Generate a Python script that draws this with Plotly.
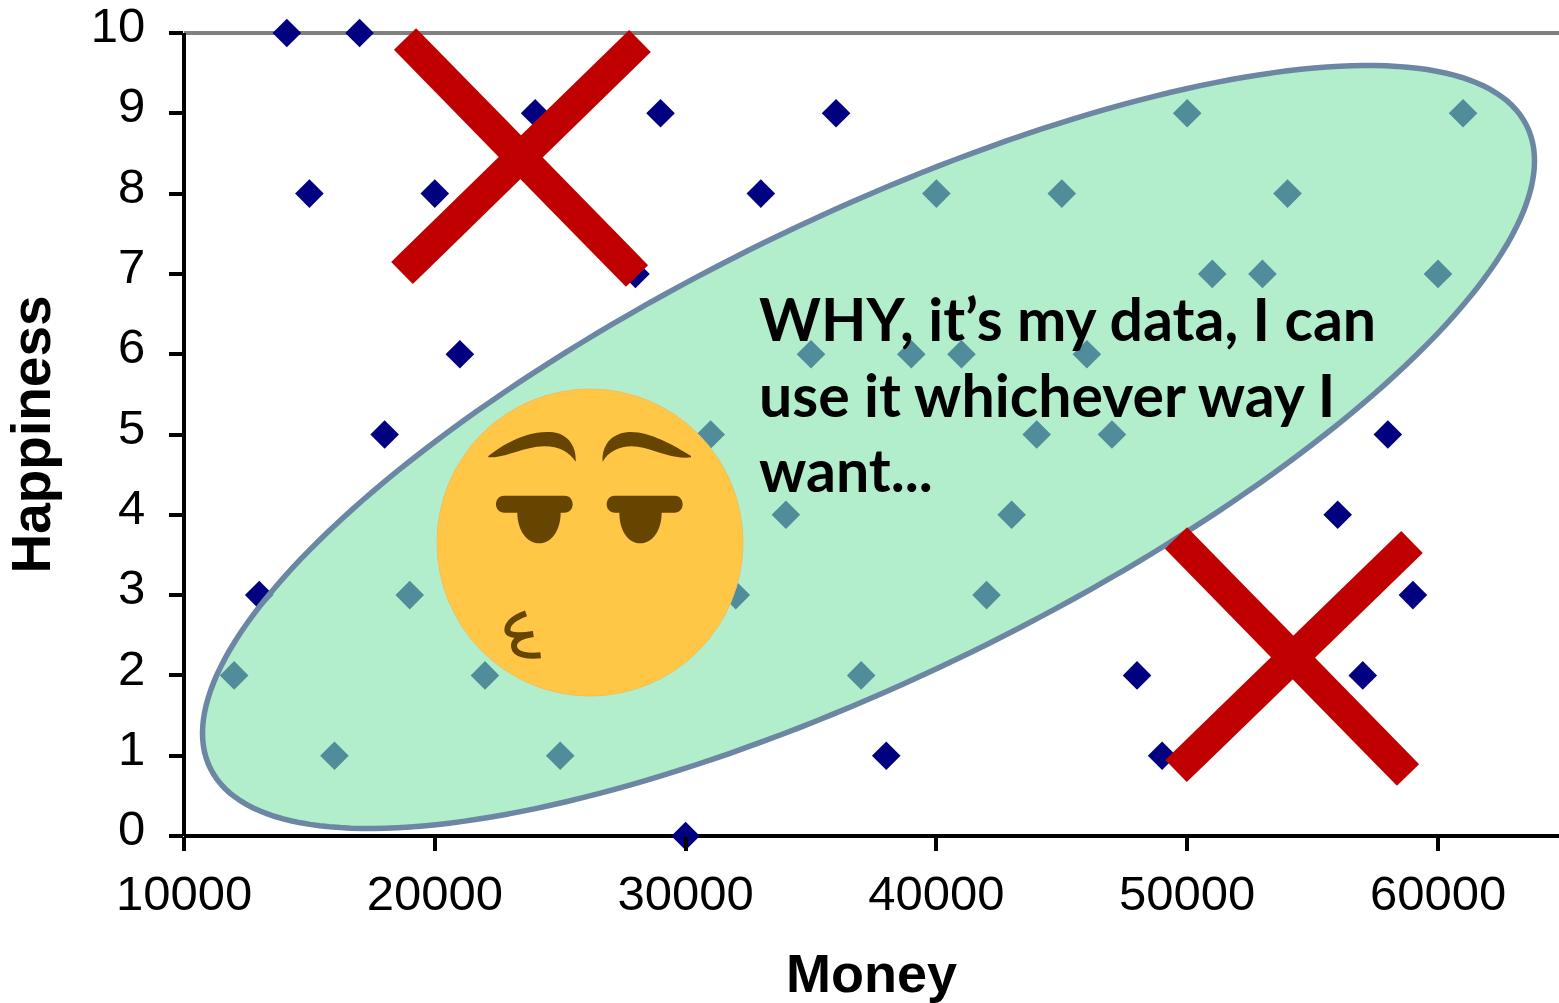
import math
import plotly.graph_objects as go

# ---- data ----
outside_money = [14100, 17000, 24000, 29000, 36000, 15000, 20000, 33000, 28000, 21000, 18000,
                 13000, 30000, 38000, 48000, 49000, 57000, 59000, 56000, 58000]
outside_happy = [10, 10, 9, 9, 9, 8, 8, 8, 7, 6, 5, 3, 0, 1, 2, 1, 2, 3, 4, 5]
inside_money = [50000, 61000, 40000, 45000, 54000, 51000, 53000, 60000, 35000, 39000, 41000, 46000,
                31000, 44000, 47000, 34000, 43000, 19000, 32000, 42000, 12000, 22000, 37000, 16000, 25000]
inside_happy = [9, 9, 8, 8, 8, 7, 7, 7, 6, 6, 6, 6, 5, 5, 5, 4, 4, 3, 3, 3, 2, 2, 2, 1, 1]
x_ticks = [10000, 20000, 30000, 40000, 50000, 60000]
y_ticks = list(range(0, 11))
note_lines = ["WHY, it’s my data, I can", "use it whichever way I", "want..."]

# ---- layout constants ----
W, H = 1559, 1003
L, T, B = 184, 33, 836
R = W
PW, PH = R - L, B - T


def fx(px):
    return (px - L) / PW


def fy(py):
    return 1 - (py - T) / PH


def pt(px, py):
    return f"{fx(px):.5f},{fy(py):.5f}"


def zpath(tokens):
    """Path given in emoji-local pixels (3x crop at 430,380) -> paper path."""
    out = []
    for t in tokens.split():
        if "," in t:
            a, b = t.split(",")
            out.append(pt(430 + float(a) / 3, 380 + float(b) / 3))
        else:
            out.append(t)
    return " ".join(out)


shapes = []
# top grey line and axis lines
shapes.append(dict(type="line", xref="paper", yref="paper", x0=0, x1=1, y0=1, y1=1,
                   line=dict(color="#808080", width=4), layer="below"))
shapes.append(dict(type="line", xref="paper", yref="paper", x0=0, x1=0, y0=0, y1=1,
                   line=dict(color="#000000", width=4), layer="below"))
shapes.append(dict(type="line", xref="paper", yref="paper", x0=0, x1=1, y0=0, y1=0,
                   line=dict(color="#000000", width=4), layer="below"))

# rotated ellipse overlay
cx, cy, ax, ay, phi = 868.5, 447, 666, 381.5, math.radians(48.6)
ell = []
for i in range(240):
    t = 2 * math.pi * i / 240
    ell.append(pt(cx + ax * math.cos(t), cy - ay * math.sin(t + phi)))
shapes.append(dict(type="path", xref="paper", yref="paper",
                   path="M " + " L ".join(ell) + " Z",
                   fillcolor="rgba(130,228,171,0.615)",
                   line=dict(color="#6c87a3", width=5.5), layer="above"))

# red crosses
for (a, b, c, d) in [(405, 39, 637, 276), (640, 41, 402, 273), (1176, 538, 1408, 775), (1412, 542, 1176, 771)]:
    shapes.append(dict(type="line", xref="paper", yref="paper", x0=fx(a), y0=fy(b), x1=fx(c), y1=fy(d),
                       line=dict(color="#C00000", width=31), layer="above"))

# emoji
FACE, BROWN = "#FFC745", "#664500"
shapes.append(dict(type="circle", xref="paper", yref="paper", x0=fx(437), x1=fx(743), y0=fy(696), y1=fy(389),
                   fillcolor=FACE, line=dict(color="#F0BE60", width=1), layer="above"))
solid = [
    "M 175,228 C 230,185 300,150 370,157 C 410,162 440,195 437,245 C 415,210 375,193 320,200 C 270,207 220,234 175,232 Z",
    "M 783,228 C 730,195 650,150 590,157 C 545,162 515,195 518,245 C 540,205 590,190 640,203 C 690,217 740,238 783,232 Z",
    "M 222,347 L 404,347 C 436,347 436,398 404,398 L 392,398 C 392,450 365,490 328,490 C 290,490 262,450 262,398 L 222,398 C 190,398 190,347 222,347 Z",
    "M 554,347 L 734,347 C 766,347 766,398 734,398 L 695,398 C 695,450 668,490 631,490 C 593,490 568,450 568,398 L 554,398 C 522,398 522,347 554,347 Z",
]
for p in solid:
    shapes.append(dict(type="path", xref="paper", yref="paper", path=zpath(p),
                       fillcolor=BROWN, line=dict(width=0), layer="above"))
shapes.append(dict(type="path", xref="paper", yref="paper",
                   path=zpath("M 288,700 C 255,712 232,730 232,750 C 232,768 270,768 310,762 C 270,768 250,780 252,800 C 255,825 295,830 332,826"),
                   line=dict(color=BROWN, width=6), layer="above"))

fig = go.Figure()
fig.add_trace(go.Scatter(x=outside_money, y=outside_happy, mode="markers", name="Outside", cliponaxis=False,
                         marker=dict(symbol="diamond", size=22, color="#000080", line=dict(width=0))))
fig.add_trace(go.Scatter(x=inside_money, y=inside_happy, mode="markers", name="Inside", cliponaxis=False,
                         marker=dict(symbol="diamond", size=22, color="#000080", line=dict(width=0))))

tick_font = dict(family="Liberation Sans, Arial, sans-serif", size=49, color="#000000")
title_font = dict(family="Liberation Sans, Arial, sans-serif", size=55, color="#000000", weight="bold")

fig.update_layout(
    width=W, height=H,
    margin=dict(l=L, r=W - R, t=T, b=H - B, pad=0, autoexpand=False),
    paper_bgcolor="#FFFFFF", plot_bgcolor="#FFFFFF",
    showlegend=False,
    shapes=shapes,
    xaxis=dict(range=[10000, 10000 + PW / 25.08 * 1000], tickmode="array", tickvals=x_ticks,
               ticktext=[str(v) for v in x_ticks], tickfont=tick_font,
               ticks="outside", ticklen=14, tickwidth=4, tickcolor="#000000",
               showgrid=False, zeroline=False, showline=False, ticklabelstandoff=0,
               title=dict(text="Money", font=dict(title_font, size=54), standoff=45)),
    yaxis=dict(range=[0, 10], tickmode="array", tickvals=y_ticks,
               ticktext=[str(v) for v in y_ticks], tickfont=tick_font,
               ticks="outside", ticklen=14, tickwidth=4, tickcolor="#000000",
               showgrid=False, zeroline=False, showline=False, ticklabelstandoff=14,
               ticklabelshift=-8, ticklabeloverflow="allow",
               title=dict(text="Happiness", font=title_font, standoff=48)),
)

note_font = dict(family="Lato, Noto Sans, sans-serif", size=59, color="#000000", weight="bold")
for line, py in zip(note_lines, [318, 394, 470]):
    fig.add_annotation(xref="paper", yref="paper", x=fx(757), y=fy(py), xanchor="left", yanchor="middle",
                       align="left", showarrow=False, text=line, font=note_font)

fig.write_html("out.html", config={"displayModeBar": False},
               post_script="document.body.style.margin='0';document.documentElement.style.overflow='hidden';")
